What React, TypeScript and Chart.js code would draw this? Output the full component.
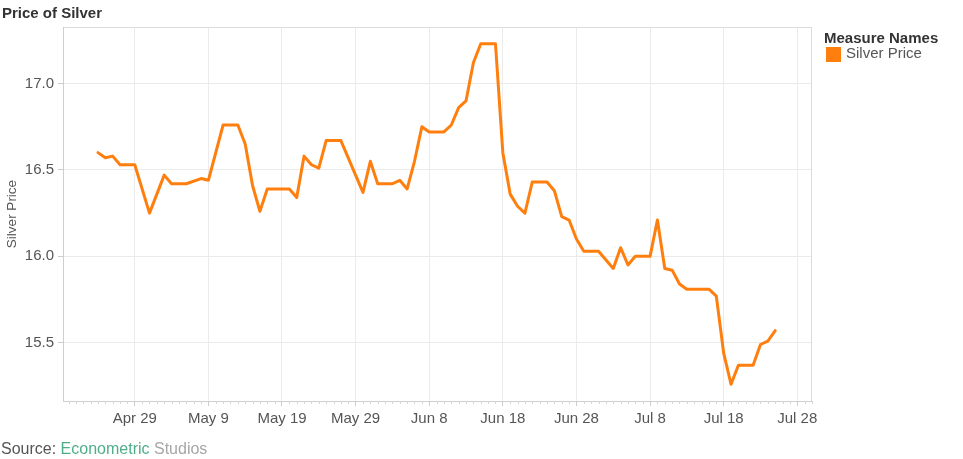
import React, { useEffect, useRef } from "react";
import { Chart, registerables } from "chart.js";

Chart.register(...registerables);

// Days counted from Apr 29 (day 0)
const dayOffsets = [
  -5, -4, -3, -2, 0, 2, 4, 5, 7, 9,
  10, 12, 14, 15, 16, 17, 18, 21, 22, 23,
  24, 25, 26, 28, 31, 32, 33, 35, 36, 37,
  38, 39, 40, 42, 43, 44, 45, 46, 47, 49,
  50, 51, 52, 53, 54, 56, 57, 58, 59, 60,
  61, 63, 65, 66, 67, 68, 70, 71, 72, 73,
  74, 75, 78, 79, 80, 81, 82, 84, 85, 86,
  87,
];

const silverPrice = [
  16.6, 16.57, 16.58, 16.53, 16.53, 16.25, 16.47, 16.42, 16.42, 16.45,
  16.44, 16.76, 16.76, 16.65, 16.41, 16.26, 16.39, 16.39, 16.34, 16.58,
  16.53, 16.51, 16.67, 16.67, 16.37, 16.55, 16.42, 16.42, 16.44, 16.39,
  16.55, 16.75, 16.72, 16.72, 16.76, 16.86, 16.9, 17.12, 17.23, 17.23,
  16.6, 16.36, 16.29, 16.25, 16.43, 16.43, 16.38, 16.23, 16.21, 16.1,
  16.03, 16.03, 15.93, 16.05, 15.95, 16.0, 16.0, 16.21, 15.93, 15.92,
  15.84, 15.81, 15.81, 15.77, 15.44, 15.26, 15.37, 15.37, 15.49, 15.51,
  15.57,
];

const xTickDays = [0, 10, 20, 30, 40, 50, 60, 70, 80, 90];
const xTickLabels = ["Apr 29", "May 9", "May 19", "May 29", "Jun 8", "Jun 18", "Jun 28", "Jul 8", "Jul 18", "Jul 28"];
const yTickValues = [15.5, 16.0, 16.5, 17.0];

const FONT = '"Liberation Sans", Arial, sans-serif';
const LINE_COLOR = "#ff7f0e";

const framePlugin = {
  id: "frame",
  beforeDatasetsDraw(chart: any) {
    const { ctx, chartArea } = chart;
    const { left, right, top, bottom } = chartArea;
    ctx.save();
    ctx.lineWidth = 1;
    ctx.strokeStyle = "#dcdcdc";
    ctx.beginPath();
    ctx.moveTo(left, top + 0.5);
    ctx.lineTo(right, top + 0.5);
    ctx.moveTo(right - 0.5, top);
    ctx.lineTo(right - 0.5, bottom);
    ctx.stroke();
    ctx.strokeStyle = "#cfcfcf";
    ctx.beginPath();
    ctx.moveTo(left + 0.5, top);
    ctx.lineTo(left + 0.5, bottom);
    ctx.moveTo(left, bottom + 0.5);
    ctx.lineTo(right, bottom + 0.5);
    ctx.stroke();
    // minor day ticks
    const xs = chart.scales.x;
    ctx.strokeStyle = "#d6d6d6";
    ctx.beginPath();
    for (let d = Math.ceil(xs.min); d <= Math.floor(xs.max); d++) {
      if (d % 10 === 0) continue;
      const px = Math.round(xs.getPixelForValue(d)) + 0.5;
      ctx.moveTo(px, bottom);
      ctx.lineTo(px, bottom + 3);
    }
    ctx.stroke();
    ctx.restore();
  },
};

export default function App() {
  const canvasRef = useRef<HTMLCanvasElement | null>(null);

  useEffect(() => {
    const canvas = canvasRef.current;
    if (!canvas) return;
    const chart = new Chart(canvas, {
      type: "line",
      data: {
        datasets: [
          {
            label: "Silver Price",
            data: dayOffsets.map((d, i) => ({ x: d, y: silverPrice[i] })),
            borderColor: LINE_COLOR,
            backgroundColor: LINE_COLOR,
            borderWidth: 3,
            pointRadius: 0,
            tension: 0,
            borderJoinStyle: "round",
            borderCapStyle: "round",
          },
        ],
      },
      options: {
        animation: false,
        responsive: false,
        maintainAspectRatio: false,
        layout: { padding: { top: 27, right: 151, left: 0, bottom: 0 } },
        plugins: { legend: { display: false }, tooltip: { enabled: false }, title: { display: false } },
        scales: {
          x: {
            type: "linear",
            min: -9.75,
            max: 92,
            afterBuildTicks: (s: any) => {
              s.ticks = xTickDays.map((v) => ({ value: v }));
            },
            afterFit: (s: any) => {
              s.height = 58;
            },
            ticks: {
              callback: (_v: any, i: number) => xTickLabels[i],
              font: { family: FONT, size: 15 },
              color: "#555555",
              maxRotation: 0,
              minRotation: 0,
              autoSkip: false,
              padding: 4,
            },
            grid: { color: "#ebebeb", tickColor: "#cccccc", tickLength: 5, lineWidth: 1 },
            border: { display: false },
          },
          y: {
            type: "linear",
            min: 15.163,
            max: 17.327,
            afterBuildTicks: (s: any) => {
              s.ticks = yTickValues.map((v) => ({ value: v }));
            },
            afterFit: (s: any) => {
              s.width = 63;
            },
            ticks: {
              callback: (v: any) => Number(v).toFixed(1),
              font: { family: FONT, size: 15 },
              color: "#555555",
              padding: 4,
            },
            grid: { color: "#ebebeb", tickColor: "#cccccc", tickLength: 5, lineWidth: 1 },
            border: { display: false },
            title: {
              display: true,
              text: "Silver Price",
              font: { family: FONT, size: 13.5 },
              color: "#555555",
              padding: { top: 4, bottom: 4 },
            },
          },
        },
      },
      plugins: [framePlugin],
    });
    return () => chart.destroy();
  }, []);

  return (
    <div style={{ position: "absolute", left: 0, top: 0, width: 963, height: 459, background: "#fff", fontFamily: FONT }}>
      <canvas ref={canvasRef} width={963} height={459} style={{ position: "absolute", left: 0, top: 0, width: 963, height: 459 }} />
      <div style={{ position: "absolute", left: 2, top: 4, fontSize: 15, lineHeight: "18px", fontWeight: "bold", color: "#333333", whiteSpace: "nowrap" }}>
        Price of Silver
      </div>
      <div style={{ position: "absolute", left: 824, top: 28.5, fontSize: 15, lineHeight: "18px", fontWeight: "bold", color: "#333333", whiteSpace: "nowrap" }}>
        Measure Names
      </div>
      <div style={{ position: "absolute", left: 826, top: 47, width: 15, height: 15, background: LINE_COLOR }} />
      <div style={{ position: "absolute", left: 846, top: 43.5, fontSize: 15, lineHeight: "18px", color: "#555555", whiteSpace: "nowrap" }}>
        Silver Price
      </div>
      <div style={{ position: "absolute", left: 1, top: 439.5, fontSize: 16, lineHeight: "18px", color: "#555555", whiteSpace: "nowrap" }}>
        Source: <span style={{ color: "#4fae8a" }}>Econometric</span> <span style={{ color: "#a6a6a6" }}>Studios</span>
      </div>
    </div>
  );
}
